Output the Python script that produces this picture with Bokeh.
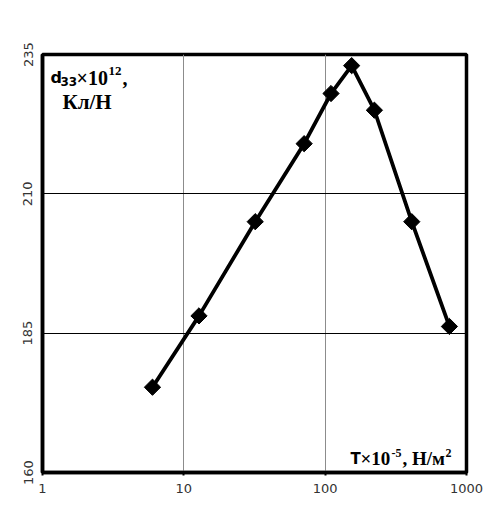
import math
from bokeh.plotting import figure
from bokeh.models import Range1d, FixedTicker, PrintfTickFormatter, Label
from bokeh.embed import file_html
from bokeh.resources import INLINE

# Data
stress = [6.0, 12.8, 32.0, 71.0, 110.0, 154.0, 223.0, 410.0, 757.0]
d33 = [175.3, 188.1, 205.0, 219.0, 228.0, 233.0, 225.0, 205.0, 186.2]
x_ticks = [1, 10, 100, 1000]
y_ticks = [160, 185, 210, 235]

X0, X1 = 1, 1000
Y0, Y1 = 160, 235

p = figure(width=488, height=499, x_axis_type="log",
           x_range=Range1d(X0, X1), y_range=Range1d(Y0, Y1),
           output_backend="svg", toolbar_location=None,
           min_border_left=42, min_border_right=22,
           min_border_top=54, min_border_bottom=27)
p.background_fill_color = "white"
p.border_fill_color = "white"
p.outline_line_color = "black"
p.outline_line_width = 3.5

# axes
p.xaxis.ticker = FixedTicker(ticks=x_ticks, minor_ticks=[])
p.xaxis.formatter = PrintfTickFormatter(format="%d")
p.yaxis.ticker = FixedTicker(ticks=y_ticks, minor_ticks=[])
for ax in (p.xaxis[0], p.yaxis[0]):
    ax.axis_line_color = "black"
    ax.axis_line_width = 3.5
    ax.major_tick_line_color = "black"
    ax.major_tick_line_width = 2
    ax.minor_tick_line_color = None
    ax.major_tick_in = 0
    ax.major_label_text_font = "DejaVu Sans"
    ax.major_label_text_font_size = "13px"
    ax.major_label_text_color = "#333333"
p.xaxis.major_tick_out = 3
p.xaxis.major_label_standoff = 8
p.yaxis.major_tick_out = 0
p.yaxis.major_label_standoff = 10
p.yaxis.major_label_orientation = "parallel"

# grid
p.xgrid.ticker = FixedTicker(ticks=x_ticks)
p.ygrid.ticker = FixedTicker(ticks=y_ticks)
p.xgrid.grid_line_color = "#8c8c8c"
p.xgrid.grid_line_width = 1
p.ygrid.grid_line_color = "black"
p.ygrid.grid_line_width = 1

# series
p.line(stress, d33, line_color="black", line_width=3.8)
p.scatter(stress, d33, marker="square", size=11.5, angle=math.pi / 4,
          fill_color="black", line_color="black", line_width=1)


def lab(text, ax, ay, dx, dy, size, font, align="left"):
    p.add_layout(Label(x=ax, y=ay, x_offset=dx, y_offset=dy, text=text,
                       text_font=font, text_font_size=f"{size}px",
                       text_font_style="bold", text_color="black",
                       text_baseline="alphabetic", text_align=align))


SERIF = "Liberation Serif"
SANS = "DejaVu Sans"
# top-left label (anchored at frame top-left corner)
lab("d", X0, Y1, 8, -23, 16, SANS)
lab("33", X0, Y1, 18, -27, 12, SANS)
lab("\u00d710", X0, Y1, 34, -23, 20, SERIF)
lab("12", X0, Y1, 66, -16, 13, SERIF)
lab(",", X0, Y1, 80, -23, 20, SERIF)
lab("\u041a\u043b/\u041d", X0, Y1, 20, -47, 21, SERIF)

# bottom-right label (anchored at frame bottom-right corner)
lab("\u0422", X1, Y0, -116, 14, 15, SANS)
lab("\u00d710", X1, Y0, -106, 14, 19, SERIF)
lab("-5", X1, Y0, -75, 20, 12, SERIF)
lab(", \u041d/\u043c", X1, Y0, -64, 14, 19, SERIF)
lab("2", X1, Y0, -21, 20, 12, SERIF)

open("out.html", "w").write(file_html(p, INLINE))
